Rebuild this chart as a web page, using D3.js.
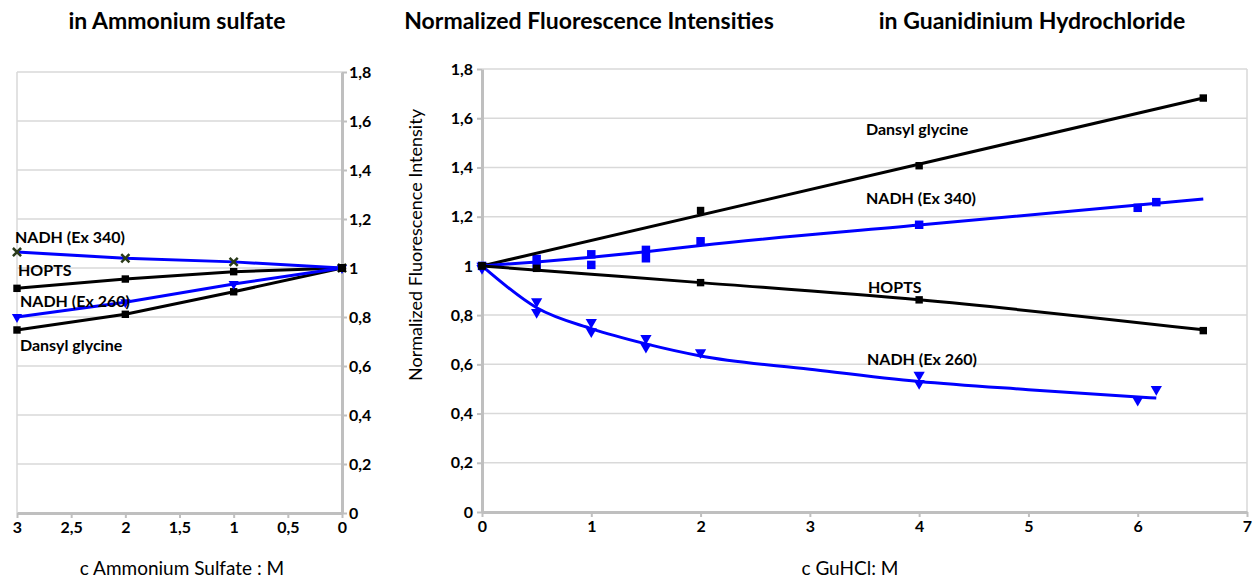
<!DOCTYPE html>
<html><head><meta charset="utf-8">
<script src="https://cdn.jsdelivr.net/npm/d3@7"></script>
<style>
body{margin:0;background:#fff;}
svg{display:block;}
text{font-family:Lato,"Open Sans",sans-serif;}
</style></head>
<body><svg id="c" width="1255" height="580"></svg>
<script>
// ---------- Left panel data: Ammonium sulfate ----------
const asConc = [3, 2, 1, 0];
const asNadh340 = [1.065, 1.04, 1.025, 1.0];
const asHopts = [0.917, 0.955, 0.985, 1.0];
const asNadh260 = [0.80, 0.86, 0.935, 1.0];
const asDansyl = [0.747, 0.811, 0.903, 1.0];
const asTicksX = [3, 2.5, 2, 1.5, 1, 0.5, 0];

// ---------- Right panel data: GuHCl ----------
const guDansylX = [0, 2, 4, 6.6];
const guDansylY = [1.0, 1.225, 1.407, 1.682];
const guDansylFitX = [0, 6.6];
const guDansylFitY = [1.0, 1.682];

const guNadh340X = [0, 0.5, 0.5, 1, 1, 1.5, 1.5, 2, 4, 6, 6.17];
const guNadh340Y = [1.0, 1.028, 0.995, 1.047, 1.004, 1.065, 1.031, 1.10, 1.167, 1.236, 1.259];
const guNadh340FitX = [0, 0.5, 1, 1.5, 2, 4, 6.6];
const guNadh340FitY = [1.0, 1.016, 1.035, 1.057, 1.083, 1.166, 1.272];

const guHoptsX = [0, 0.5, 2, 4, 6.6];
const guHoptsY = [1.0, 0.99, 0.932, 0.862, 0.737];
const guHoptsFitX = [0, 1, 2, 4, 6.6];
const guHoptsFitY = [1.0, 0.966, 0.932, 0.862, 0.740];

const guNadh260X = [0, 0, 0.5, 0.5, 1, 1, 1.5, 1.5, 2, 4, 4, 6, 6.17];
const guNadh260Y = [1.0, 0.99, 0.855, 0.812, 0.771, 0.733, 0.706, 0.67, 0.648, 0.557, 0.523, 0.455, 0.499];
const guNadh260FitX = [0, 0.5, 1, 1.5, 2, 3, 4, 5, 6.17];
const guNadh260FitY = [1.0, 0.83, 0.745, 0.683, 0.634, 0.58, 0.53, 0.497, 0.463];

const yTicks = [0, 0.2, 0.4, 0.6, 0.8, 1, 1.2, 1.4, 1.6, 1.8];
const guTicksX = [0, 1, 2, 3, 4, 5, 6, 7];

const titles = ["in Ammonium sulfate", "Normalized Fluorescence Intensities", "in Guanidinium Hydrochloride"];

const svg = d3.select("#c");
const fmt = d => String(+(+d).toFixed(1)).replace(".", ",");
const BLACK = "#000", BLUE = "#0000ff", AXIS = "#bfbfbf", GRID = "#d9d9d9";

// Titles
svg.append("text").attr("x", 177).attr("y", 29).attr("text-anchor", "middle")
  .attr("font-size", 23).attr("font-weight", 700).text(titles[0]);
svg.append("text").attr("x", 589).attr("y", 29).attr("text-anchor", "middle")
  .attr("font-size", 23).attr("font-weight", 700).text(titles[1]);
svg.append("text").attr("x", 1032).attr("y", 29).attr("text-anchor", "middle")
  .attr("font-size", 23).attr("font-weight", 700).text(titles[2]);

function styleAxis(g) {
  g.select(".domain").attr("stroke", AXIS).attr("stroke-width", 3);
  g.selectAll(".tick line").attr("stroke", AXIS).attr("stroke-width", 2);
  g.selectAll(".tick text").attr("fill", "#000").attr("font-size", 16).attr("font-weight", 700)
    .attr("font-family", "Lato, sans-serif");
}

// ---------- Left panel ----------
const xL = d3.scaleLinear().domain([3, 0]).range([17, 342]);
const yL = d3.scaleLinear().domain([0, 1.8]).range([513, 72]);
const gL = svg.append("g");
gL.selectAll(".grid").data(yTicks.filter(d => d > 0)).join("line")
  .attr("x1", xL(3)).attr("x2", xL(0)).attr("y1", d => yL(d)).attr("y2", d => yL(d))
  .attr("stroke", GRID).attr("stroke-width", 1.5);
gL.append("line").attr("x1", xL(3)).attr("x2", xL(3)).attr("y1", yL(1.8)).attr("y2", yL(0))
  .attr("stroke", GRID).attr("stroke-width", 1.5);
gL.append("g").attr("transform", `translate(0,${yL(0)})`)
  .call(d3.axisBottom(xL).tickValues(asTicksX).tickFormat(fmt).tickSize(5).tickSizeOuter(0).tickPadding(4))
  .call(styleAxis);
gL.append("g").attr("transform", `translate(${xL(0)},0)`)
  .call(d3.axisRight(yL).tickValues(yTicks).tickFormat(fmt).tickSize(5).tickSizeOuter(0).tickPadding(2))
  .call(styleAxis);

const lineL = d3.line().x(d => xL(d[0])).y(d => yL(d[1]));
const leftSeries = [
  {y: asDansyl, c: BLACK, m: "sq"},
  {y: asHopts, c: BLACK, m: "sq"},
  {y: asNadh260, c: BLUE, m: "tri"},
  {y: asNadh340, c: BLUE, m: "x"}
];
leftSeries.forEach(s => {
  const pts = asConc.map((x, i) => [x, s.y[i]]);
  gL.append("path").attr("d", lineL(pts)).attr("fill", "none").attr("stroke", s.c).attr("stroke-width", 3);
  pts.forEach(p => {
    if (s.m === "sq") {
      gL.append("path").attr("d", d3.symbol(d3.symbolSquare, 55)())
        .attr("transform", `translate(${xL(p[0])},${yL(p[1])})`).attr("fill", BLACK);
    } else if (s.m === "tri") {
      gL.append("path").attr("d", d3.symbol(d3.symbolTriangle, 45)())
        .attr("transform", `translate(${xL(p[0])},${yL(p[1])}) rotate(180)`).attr("fill", BLUE);
    } else {
      gL.append("path").attr("d", d3.symbol(d3.symbolTimes, 45)())
        .attr("transform", `translate(${xL(p[0])},${yL(p[1])})`).attr("fill", "none")
        .attr("stroke", "#2a3a1a").attr("stroke-width", 2.5);
    }
  });
});
gL.append("path").attr("d", d3.symbol(d3.symbolSquare, 64)())
  .attr("transform", `translate(${xL(0)},${yL(1)})`).attr("fill", BLACK);

const lblL = [
  ["NADH (Ex 340)", 15, 243],
  ["HOPTS", 18, 276],
  ["NADH (Ex 260)", 20, 307],
  ["Dansyl glycine", 20, 351]
];
lblL.forEach(l => svg.append("text").attr("x", l[1]).attr("y", l[2]).attr("font-size", 16)
  .attr("font-weight", 700).text(l[0]));

svg.append("text").attr("x", 182).attr("y", 575).attr("text-anchor", "middle")
  .attr("font-size", 19).text("c Ammonium Sulfate : M");

// ---------- Right panel ----------
const xR = d3.scaleLinear().domain([0, 7]).range([482, 1247]);
const yR = d3.scaleLinear().domain([0, 1.8]).range([512, 69]);
const gR = svg.append("g");
gR.selectAll(".grid").data(yTicks.filter(d => d > 0)).join("line")
  .attr("x1", xR(0)).attr("x2", xR(7)).attr("y1", d => yR(d)).attr("y2", d => yR(d))
  .attr("stroke", GRID).attr("stroke-width", 1.5);
gR.append("line").attr("x1", xR(7)).attr("x2", xR(7)).attr("y1", yR(1.8)).attr("y2", yR(0))
  .attr("stroke", GRID).attr("stroke-width", 1.5);
gR.append("g").attr("transform", `translate(0,${yR(0)})`)
  .call(d3.axisBottom(xR).tickValues(guTicksX).tickFormat(fmt).tickSize(5).tickSizeOuter(0).tickPadding(4))
  .call(styleAxis);
gR.append("g").attr("transform", `translate(${xR(0)},0)`)
  .call(d3.axisLeft(yR).tickValues(yTicks).tickFormat(fmt).tickSize(5).tickSizeOuter(0).tickPadding(4))
  .call(styleAxis);

const lineR = d3.line().x(d => xR(d[0])).y(d => yR(d[1]));
const lineRc = d3.line().x(d => xR(d[0])).y(d => yR(d[1])).curve(d3.curveMonotoneX);
function fit(xs, ys, c, curved) {
  gR.append("path").attr("d", (curved ? lineRc : lineR)(xs.map((x, i) => [x, ys[i]])))
    .attr("fill", "none").attr("stroke", c).attr("stroke-width", 3);
}
function marks(xs, ys, c, type, size) {
  xs.forEach((x, i) => {
    const sym = type === "tri" ? d3.symbolTriangle : d3.symbolSquare;
    gR.append("path").attr("d", d3.symbol(sym, size)())
      .attr("transform", `translate(${xR(x)},${yR(ys[i])})` + (type === "tri" ? " rotate(180)" : ""))
      .attr("fill", c);
  });
}
marks(guNadh340X, guNadh340Y, BLUE, "sq", 72);
marks(guNadh260X, guNadh260Y, BLUE, "tri", 55);
fit(guDansylFitX, guDansylFitY, BLACK, false);
fit(guNadh340FitX, guNadh340FitY, BLUE, true);
fit(guHoptsFitX, guHoptsFitY, BLACK, true);
fit(guNadh260FitX, guNadh260FitY, BLUE, true);
marks(guDansylX, guDansylY, BLACK, "sq", 55);
marks(guHoptsX, guHoptsY, BLACK, "sq", 55);

const lblR = [
  ["Dansyl glycine", 866, 135],
  ["NADH (Ex 340)", 866, 204],
  ["HOPTS", 868, 293],
  ["NADH (Ex 260)", 867, 365]
];
lblR.forEach(l => svg.append("text").attr("x", l[1]).attr("y", l[2]).attr("font-size", 16)
  .attr("font-weight", 700).text(l[0]));

svg.append("text").attr("transform", `translate(422,245) rotate(-90)`).attr("text-anchor", "middle")
  .attr("font-size", 18).text("Normalized Fluorescence Intensity");
svg.append("text").attr("x", 850).attr("y", 575).attr("text-anchor", "middle")
  .attr("font-size", 19).text("c GuHCl: M");
</script></body></html>
